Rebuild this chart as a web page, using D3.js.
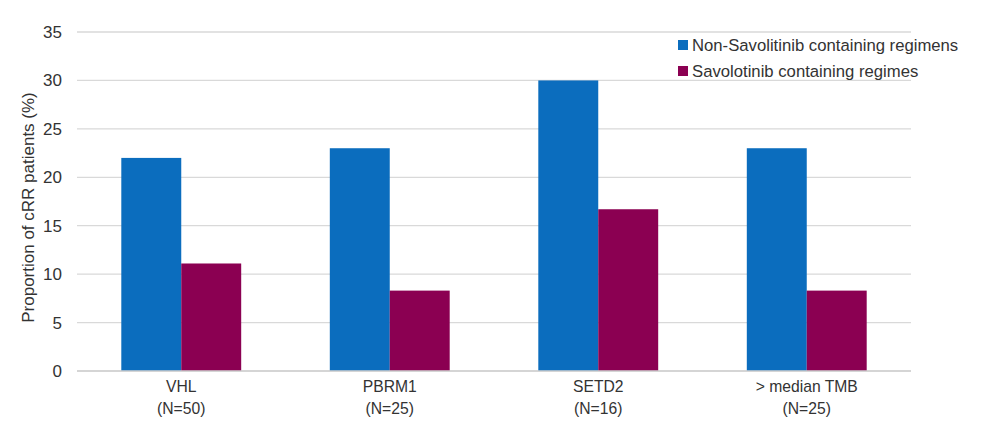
<!DOCTYPE html>
<html><head><meta charset="utf-8">
<script src="https://cdn.jsdelivr.net/npm/d3@7"></script>
<style>body{margin:0;background:#fff;} text{font-family:"Liberation Sans",Arial,sans-serif;fill:#333;}</style>
</head><body>
<svg id="c" width="989" height="427"></svg>
<script>
const categories = ["VHL", "PBRM1", "SETD2", "> median TMB"];
const categoryN = ["(N=50)", "(N=25)", "(N=16)", "(N=25)"];
const seriesNames = ["Non-Savolitinib containing regimens", "Savolotinib containing regimes"];
const nonSavolitinib = [22, 23, 30, 23];
const savolitinib = [11.1, 8.3, 16.7, 8.3];
const yTicks = [0, 5, 10, 15, 20, 25, 30, 35];
const colors = ["#0B6DBE", "#8B0052"];

const svg = d3.select("#c");
const m = {left: 77, right: 989 - 911, top: 32, bottom: 427 - 371};
const W = 989, H = 427;
const x = d3.scaleBand().domain(categories).range([m.left, W - m.right]).paddingInner(0.425).paddingOuter(0.2125);
const xs = d3.scaleBand().domain([0, 1]).range([0, x.bandwidth()]);
const y = d3.scaleLinear().domain([0, 35]).range([H - m.bottom, m.top]);

// gridlines
svg.append("g").selectAll("line").data(yTicks).join("line")
  .attr("x1", m.left).attr("x2", W - m.right)
  .attr("y1", d => y(d)).attr("y2", d => y(d))
  .attr("stroke", "#d9d9d9").attr("stroke-width", 1.3);

// y tick labels
const yAxis = d3.axisLeft(y).tickValues(yTicks).tickSize(0).tickPadding(15);
const ya = svg.append("g").attr("transform", `translate(${m.left},0)`).call(yAxis);
ya.select(".domain").remove();
ya.selectAll("text").style("font-size", "17px").style("font-family", "Liberation Sans, Arial, sans-serif").attr("fill", "#333");

// bars
const series = [nonSavolitinib, savolitinib];
series.forEach((vals, si) => {
  svg.append("g").selectAll("rect").data(vals).join("rect")
    .attr("x", (d, i) => x(categories[i]) + xs(si))
    .attr("width", xs.bandwidth())
    .attr("y", d => y(d))
    .attr("height", d => y(0) - y(d))
    .attr("fill", colors[si]);
});

// x axis line
svg.append("line").attr("x1", m.left).attr("x2", W - m.right)
  .attr("y1", y(0)).attr("y2", y(0)).attr("stroke", "#d0d0d0").attr("stroke-width", 1.3);

// x labels
const xl = svg.append("g");
categories.forEach((c, i) => {
  const cx = x(c) + x.bandwidth() / 2;
  const t = xl.append("text").attr("x", cx).attr("text-anchor", "middle").style("font-size", "15.7px");
  t.append("tspan").attr("x", cx).attr("y", y(0) + 21).text(c);
  t.append("tspan").attr("x", cx).attr("y", y(0) + 43).text(categoryN[i]);
});

// y title
svg.append("text").attr("transform", `translate(34,${(y(0) + y(35)) / 2 + 6}) rotate(-90)`)
  .attr("text-anchor", "middle").style("font-size", "17px").text("Proportion of cRR patients (%)");

// legend
const lg = svg.append("g");
seriesNames.forEach((s, i) => {
  const cy = 45 + i * 26;
  lg.append("rect").attr("x", 678).attr("y", cy - 5).attr("width", 10).attr("height", 10).attr("fill", colors[i]);
  lg.append("text").attr("x", 692).attr("y", cy + 6).style("font-size", "16.7px").text(s);
});
</script>
</body></html>
